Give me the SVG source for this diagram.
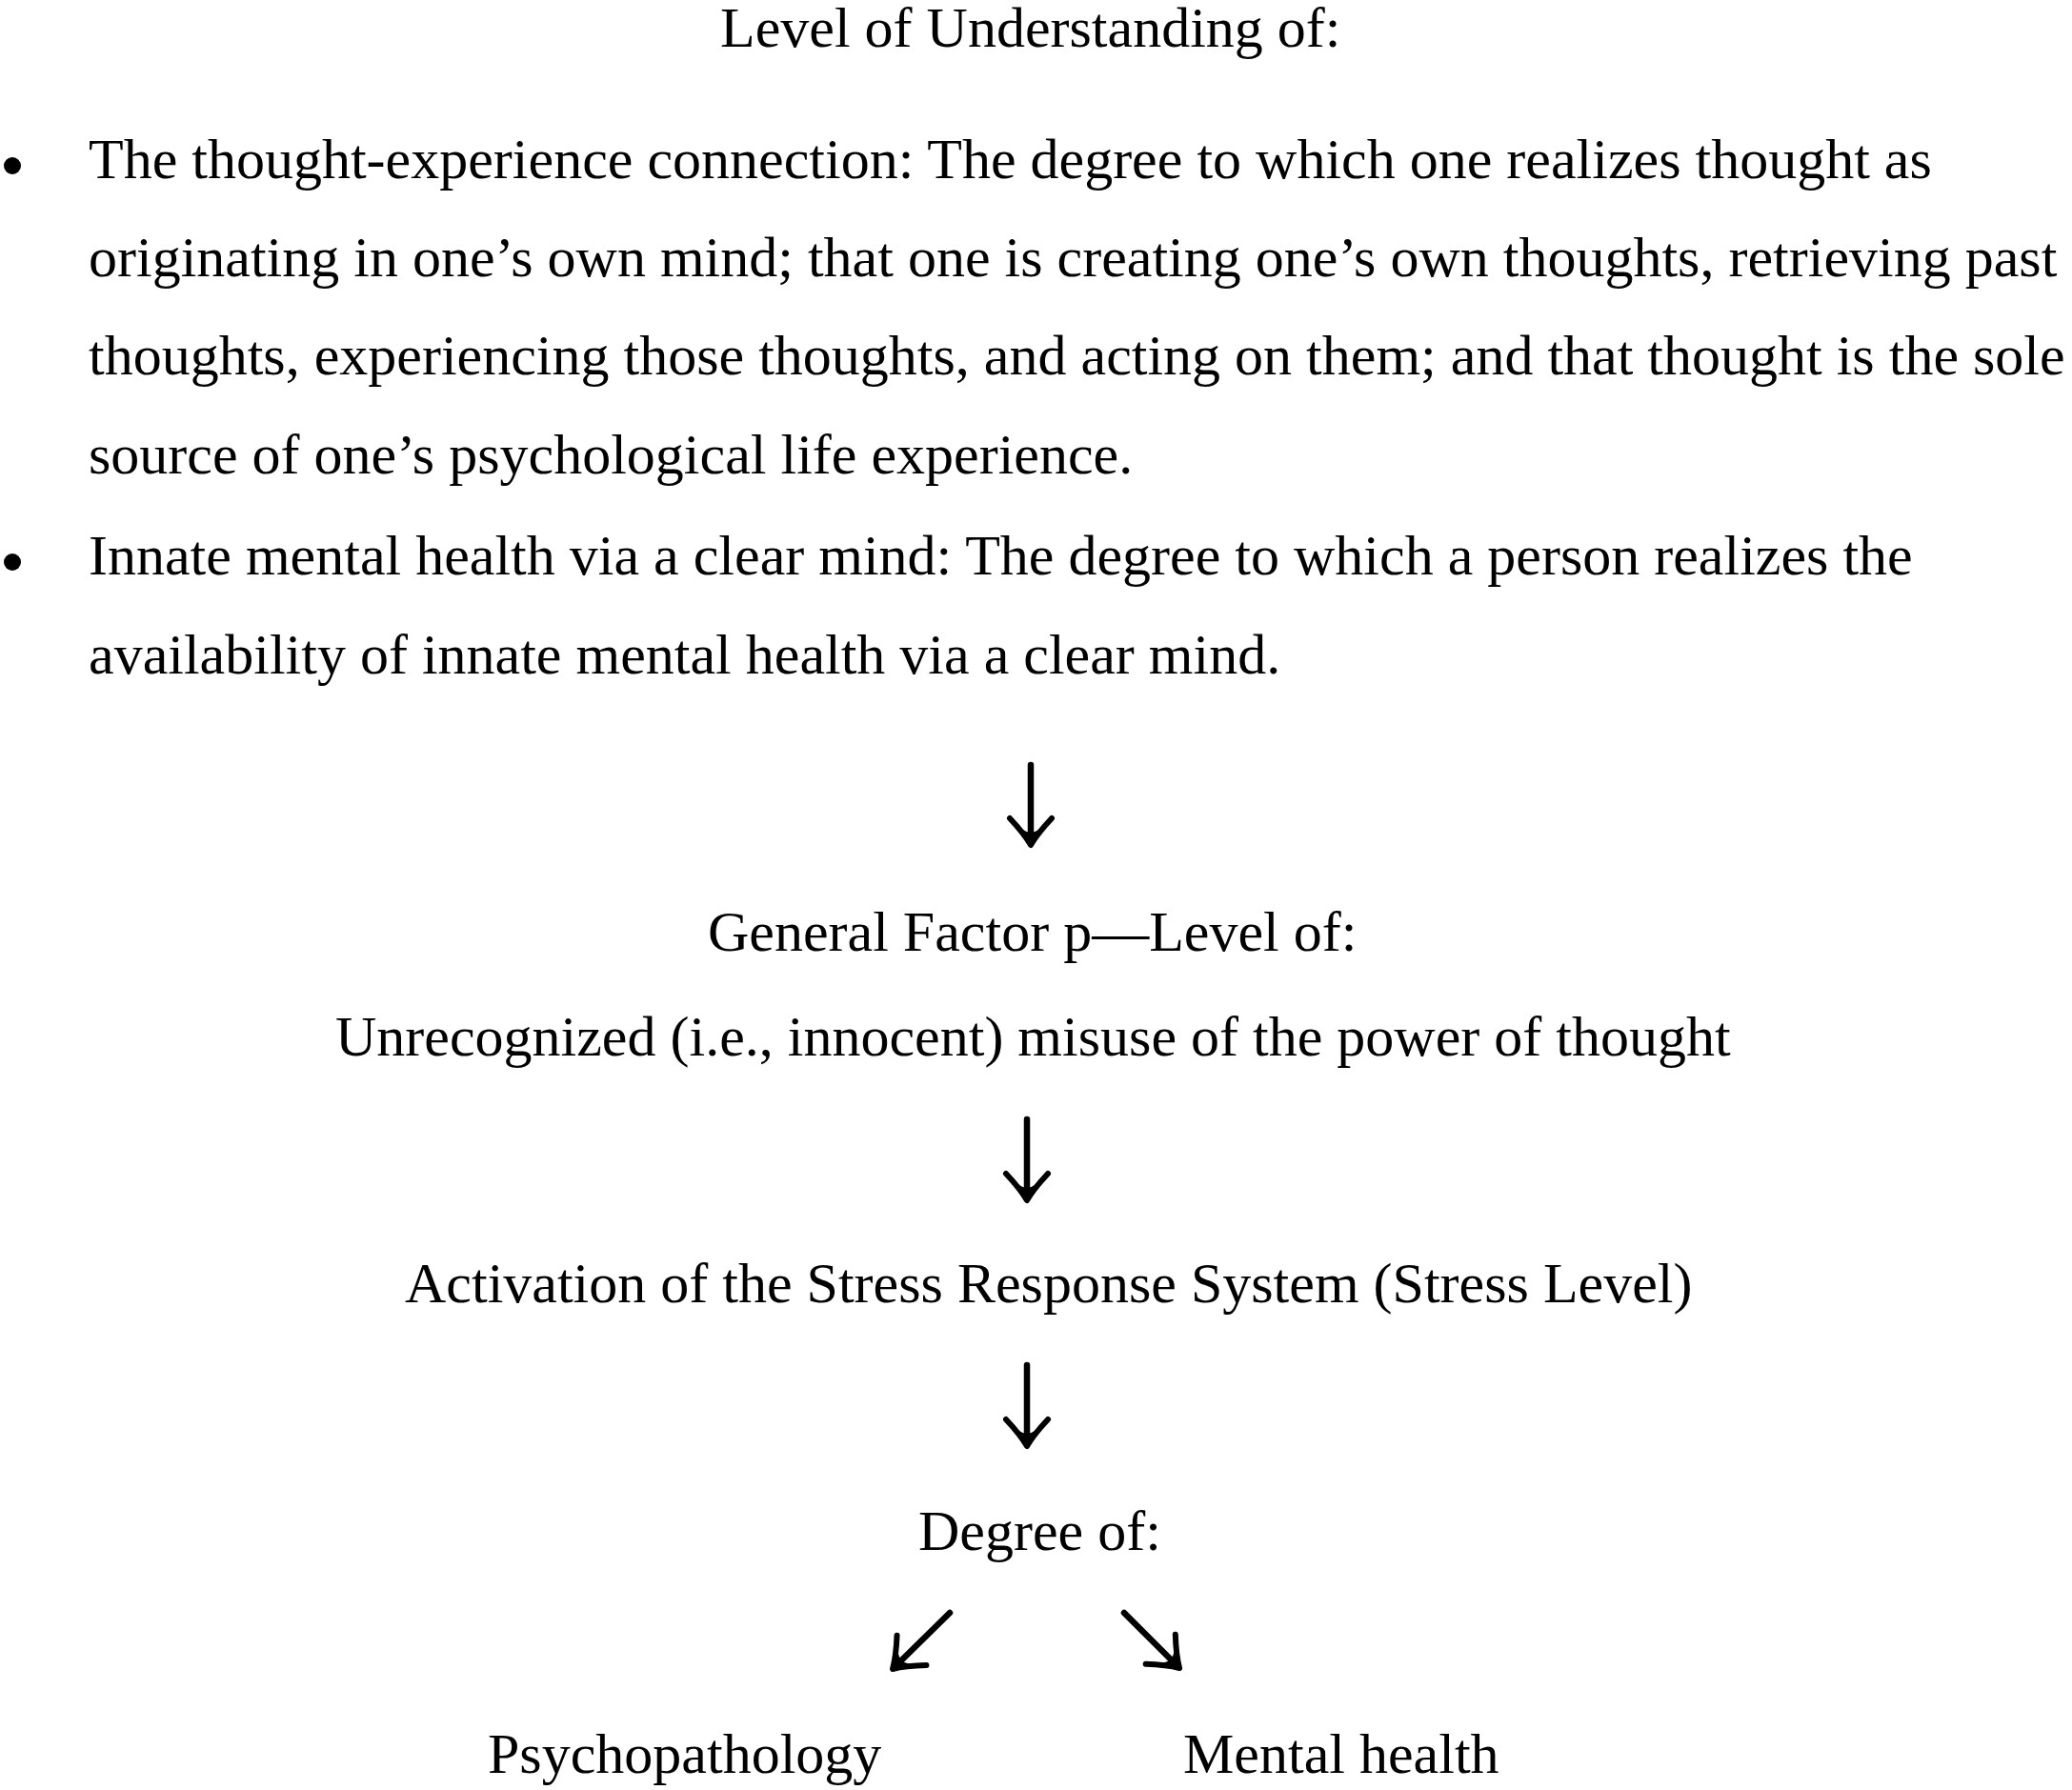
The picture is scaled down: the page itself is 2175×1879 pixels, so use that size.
<svg xmlns="http://www.w3.org/2000/svg" width="2175" height="1879" viewBox="0 0 2175 1879">
<style>
text{font-family:"Liberation Serif","Times New Roman",serif;font-size:60px;fill:#000}
.arr{fill:none;stroke:#000;stroke-width:6.5;stroke-linecap:round;marker-end:url(#ah)}
</style>
<defs>
<marker id="ah" markerUnits="userSpaceOnUse" markerWidth="60" markerHeight="60" viewBox="-40 -30 60 60" refX="-6" refY="0" orient="auto" overflow="visible">
<path d="M -28,-22 Q -12,-7 0,0 Q -12,7 -28,22" fill="none" stroke="#000" stroke-width="6" stroke-linecap="round" stroke-linejoin="round"/>
<path d="M 2,0 L -16,-8 Q -10,0 -16,8 Z" fill="#000"/>
</marker>
</defs>
<rect width="2175" height="1879" fill="#fff"/>
<g id="understanding">
<text x="756" y="49">Level of Understanding of:</text>
<circle cx="13" cy="174" r="9"/>
<text x="93" y="187">The thought-experience connection: The degree to which one realizes thought as</text>
<text x="93" y="290">originating in one’s own mind; that one is creating one’s own thoughts, retrieving past</text>
<text x="93" y="393">thoughts, experiencing those thoughts, and acting on them; and that thought is the sole</text>
<text x="93" y="497">source of one’s psychological life experience.</text>
<circle cx="13" cy="590" r="9"/>
<text x="93" y="603">Innate mental health via a clear mind: The degree to which a person realizes the</text>
<text x="93" y="707">availability of innate mental health via a clear mind.</text>
</g>
<g id="factor-p">
<text x="743" y="998">General Factor p—Level of:</text>
<text x="352" y="1108">Unrecognized (i.e., innocent) misuse of the power of thought</text>
</g>
<g id="stress">
<text x="425" y="1367">Activation of the Stress Response System (Stress Level)</text>
</g>
<g id="degree">
<text x="964" y="1627">Degree of:</text>
</g>
<g id="psychopathology">
<text x="512" y="1861">Psychopathology</text>
</g>
<g id="mental-health">
<text x="1242" y="1861">Mental health</text>
</g>
<g id="connectors">
<path class="arr" d="M1082,803 L1082,881"/>
<path class="arr" d="M1078,1175 L1078,1254"/>
<path class="arr" d="M1078,1433 L1078,1512"/>
<path class="arr" d="M997,1693 L941.3,1747.8"/>
<path class="arr" d="M1180,1693 L1233.8,1746.8"/>
</g>
</svg>
